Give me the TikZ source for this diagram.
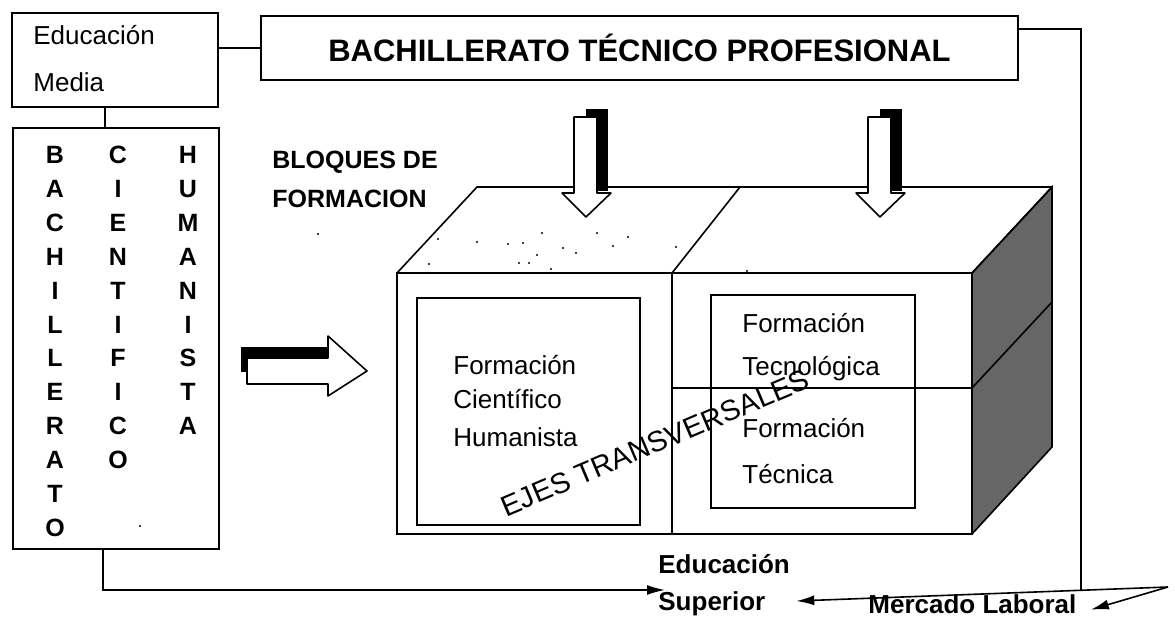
\documentclass[tikz,border=0pt]{standalone}
\usepackage{fontspec}
\setmainfont{Liberation Sans}
\usetikzlibrary{arrows.meta}
\tikzset{
  box/.style={draw, line width=0.9pt, inner sep=0pt},
  txt/.style={anchor=base west, inner sep=0pt, font=\fontsize{13}{15}\selectfont},
  btxt/.style={anchor=base west, inner sep=0pt, font=\bfseries\fontsize{12.5}{15}\selectfont},
  letra/.style={anchor=base, inner sep=0pt, font=\bfseries\fontsize{12.5}{15}\selectfont},
  linea/.style={line width=0.8pt},
  flecha/.style={line width=0.8pt, -{Latex[length=9pt,width=5pt]}},
}
\begin{document}
\begin{tikzpicture}[x=0.5pt,y=-0.5pt]
\useasboundingbox (0,0) rectangle (1175,621);
\node[box, minimum width=103pt, minimum height=47pt] (em) at (115,60) {};
\node[txt] (em1) at (33,45) {Educación};
\node[txt] (em2) at (33,91) {Media};
\node[box, minimum width=378.5pt, minimum height=32pt, font=\bfseries\fontsize{15.5}{18}\selectfont] (btp) at (639.5,48) {BACHILLERATO TÉCNICO PROFESIONAL};
\node[box, minimum width=103pt, minimum height=210.5pt] (bach) at (116,338.5) {};
\foreach \l [count=\i] in {B,A,C,H,I,L,L,E,R,A,T,O}
  \node[letra] (ba\i) at (55,{163.5+33.9*(\i-1)}) {\l};
\foreach \l [count=\i] in {C,I,E,N,T,I,F,I,C,O}
  \node[letra] (ci\i) at (118,{163.5+33.9*(\i-1)}) {\l};
\foreach \l [count=\i] in {H,U,M,A,N,I,S,T,A}
  \node[letra] (hu\i) at (188,{163.5+33.9*(\i-1)}) {\l};
\draw[linea] (btp.west) -- (btp.west -| em.east);
\draw[linea] ([xshift=-5pt]em.south) -- ([xshift=-5pt]em.south |- bach.north);
\node[btxt] (bq1) at (272,168) {BLOQUES DE};
\node[btxt] (bq2) at (272,207) {FORMACION};
% bloque
\fill[black!60] (972,273) -- (1052,187) -- (1052,447) -- (972,534) -- cycle;
\draw[linea, line join=round] (397,273) -- (477,187) -- (1052,187) -- (972,273) -- cycle;
\draw[linea] (397,273) rectangle (972,534);
\draw[linea] (972,273) -- (1052,187) -- (1052,447) -- (972,534);
\draw[linea] (672,273) -- (740,187);
\draw[linea] (672,273) -- (672,534);
\draw[linea] (672,388) -- (972,388) -- (1052,302);
\draw[linea] (417,298) rectangle (640,525);
\draw[linea] (711,295) rectangle (915,508);
\foreach \p in {(438,239),(477,242),(508,244),(523,243),(542,233),(429,264),(519,263),(529,263),(537,255),(551,269),(563,248),(576,253),(597,233),(613,246),(628,237),(676,247),(747,271),(318,234),(140,526)}
  \fill \p circle (1.2);
\node[txt] (fc1) at (453,374) {Formación};
\node[txt] (fc2) at (453,408) {Científico};
\node[txt] (fc3) at (453,446) {Humanista};
\node[txt] (ft1) at (742,332) {Formación};
\node[txt] (ft2) at (742,375) {Tecnológica};
\node[txt] (ft3) at (742,437) {Formación};
\node[txt] (ft4) at (742,483) {Técnica};
\node[inner sep=0pt, rotate=23, font=\fontsize{14.5}{16}\selectfont] (ejes) at (655,443) {EJES TRANSVERSALES};
% flechas gruesas
\foreach \cx in {586,880} {
  \fill (\cx,109) rectangle (\cx+22,191);
  \filldraw[fill=white, linea, line join=round] (\cx-12,117) -- (\cx+11,117) -- (\cx+11,193) -- (\cx+25,193) -- (\cx,217) -- (\cx-24,193) -- (\cx-12,193) -- cycle;
}
\fill (241,347) rectangle (330,372);
\filldraw[fill=white, linea, line join=round] (247,358) -- (328,358) -- (328,336) -- (367,371) -- (328,396) -- (328,384) -- (247,384) -- cycle;
% salidas
\node[anchor=west, inner sep=0pt, align=left, font=\bfseries\fontsize{13}{18.5}\selectfont] (es) at (658,585) {Educación\\Superior};
\node[btxt, font=\bfseries\fontsize{13}{15}\selectfont] (ml) at (868,613) {Mercado Laboral};
\coordinate (join) at (1081,591);
\coordinate (corner) at (1168,587);
\draw[flecha] ([xshift=-6.5pt]bach.south) |- ([xshift=3.5pt,yshift=-2.5pt]es.west);
\draw[linea] ([yshift=9.5pt]btp.east) -| (join);
\draw[flecha] (corner) -- ([xshift=3pt,yshift=-8pt]es.east);
\draw[flecha] (corner) -- ([xshift=7pt,yshift=-3pt]ml.east);
\end{tikzpicture}
\end{document}
